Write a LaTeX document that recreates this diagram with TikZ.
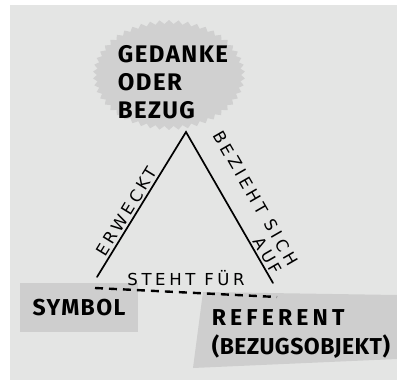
\documentclass[tikz,border=0pt]{standalone}
\usepackage{fontspec}
\setmainfont{DejaVu Sans}
\newfontfamily\markerfont{Fira Sans}[LetterSpace=6]
\newfontfamily\markerwide{Fira Sans}[LetterSpace=18]
\newfontfamily\markertight{Fira Sans}[LetterSpace=2]
\newfontfamily\penfont{DejaVu Sans}[LetterSpace=22]
\definecolor{paper}{RGB}{228,229,228}
\definecolor{patch}{RGB}{206,206,206}

\begin{document}
\begin{tikzpicture}[x=1pt,y=-1pt,
  marker/.style={font=\markerfont\bfseries\fontsize{24}{28}\selectfont,align=left,inner sep=0pt},
  pen/.style={font=\penfont\fontsize{16.5}{18}\selectfont,inner sep=1pt},
  leg/.style={line width=1.7pt,line cap=round,line join=miter},
  link/.style={line width=2.4pt,dash pattern=on 8pt off 6pt}]
  \useasboundingbox (0,0) rectangle (397,380);
  \fill[paper] (10,5) rectangle (397,380);

  % gedanke (starburst)
  \fill[patch!92!paper] plot[domain=0:360,samples=201,variable=\t]
    ({169+(76-4*abs(mod(\t,7.2)/3.6-1))*cos(\t)},{75+(55-4*abs(mod(\t,7.2)/3.6-1))*sin(\t)}) -- cycle;
  \node[marker] (thought) at (173,82) {GEDANKE\\ODER\\BEZUG};

  % symbol und referent
  \node[marker,fill=patch,minimum width=118pt,minimum height=49pt,align=center,
    font=\markerfont\bfseries\fontsize{23}{28}\selectfont] (symbol) at (79,307.5) {SYMBOL};
  \fill[patch] (203,292) -- (397,295) -- (397,359) -- (193,368) -- cycle;
  \node[marker,font=\bfseries\fontsize{23}{29}\selectfont] (referent) at (301,334)
    {\markerwide REFERENT\\\markertight(BEZUGSOBJEKT)};

  % triangle
  \coordinate (apex) at (186,132);
  \coordinate (symtip) at (97,277);
  \coordinate (reftip) at (273,283);
  \draw[leg] (symtip) -- node[pen,pos=0.42,sloped,above=1pt] {ERWECKT} (apex)
    -- node[pen,pos=0.53,sloped,above=1pt,align=right] {BEZIEHT SICH\\AUF} (reftip);

  \coordinate (symdash) at (95,288);
  \coordinate (refdash) at (277,297);
  \draw[link] (symdash) -- node[pen,midway,above=5pt] {STEHT FÜR} (refdash);
\end{tikzpicture}
\end{document}
